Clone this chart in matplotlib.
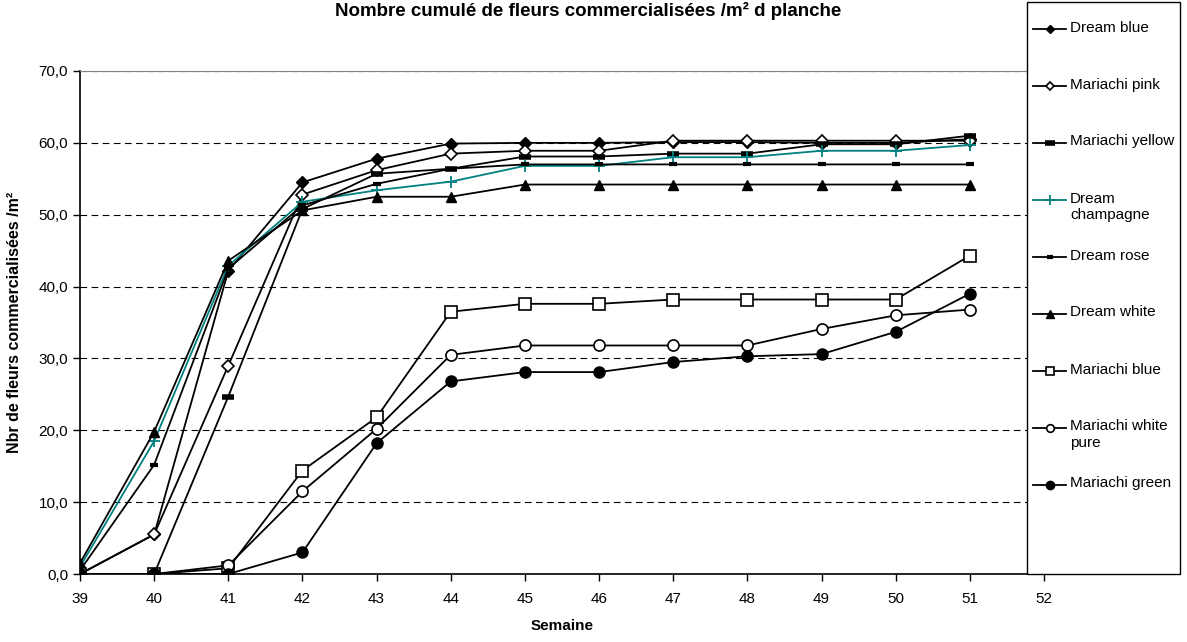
import matplotlib
matplotlib.use("Agg")
import matplotlib.pyplot as plt
from matplotlib.lines import Line2D
from matplotlib.patches import Rectangle

plt.rcParams['font.family'] = ['Liberation Sans', 'DejaVu Sans']

weeks = [39, 40, 41, 42, 43, 44, 45, 46, 47, 48, 49, 50, 51]

dream_blue = [0.0, 5.5, 42.2, 54.5, 57.8, 59.9, 60.0, 60.0, 60.1, 60.1, 60.0, 60.0, 60.5]
mariachi_pink = [0.0, 5.5, 29.0, 52.8, 56.2, 58.5, 58.9, 58.9, 60.3, 60.3, 60.3, 60.3, 60.3]
mariachi_yellow = [0.0, 0.0, 24.7, 50.8, 55.7, 56.4, 58.1, 58.1, 58.5, 58.5, 59.8, 59.8, 61.0]
dream_champagne = [1.0, 18.5, 42.9, 51.8, 53.4, 54.6, 56.8, 56.8, 58.0, 58.0, 58.9, 58.9, 59.7]
dream_rose = [0.5, 15.2, 42.5, 51.3, 54.3, 56.4, 57.0, 57.0, 57.0, 57.0, 57.0, 57.0, 57.0]
dream_white = [1.5, 19.8, 43.6, 50.6, 52.5, 52.5, 54.2, 54.2, 54.2, 54.2, 54.2, 54.2, 54.2]
mariachi_blue = [0.0, 0.0, 0.8, 14.4, 21.8, 36.5, 37.6, 37.6, 38.2, 38.2, 38.2, 38.2, 44.3]
mariachi_white_pure = [0.0, 0.0, 1.2, 11.5, 20.2, 30.5, 31.8, 31.8, 31.8, 31.8, 34.1, 36.0, 36.8]
mariachi_green = [0.0, 0.0, 0.0, 3.0, 18.2, 26.8, 28.1, 28.1, 29.5, 30.3, 30.6, 33.7, 39.0]

series = [
    ("Dream blue", dream_blue),
    ("Mariachi pink", mariachi_pink),
    ("Mariachi yellow", mariachi_yellow),
    ("Dream\nchampagne", dream_champagne),
    ("Dream rose", dream_rose),
    ("Dream white", dream_white),
    ("Mariachi blue", mariachi_blue),
    ("Mariachi white\npure", mariachi_white_pure),
    ("Mariachi green", mariachi_green),
]

y_ticks = [0, 10, 20, 30, 40, 50, 60, 70]
y_tick_labels = ["0,0", "10,0", "20,0", "30,0", "40,0", "50,0", "60,0", "70,0"]
x_ticks = list(range(39, 53))

# marker styles, same order as series (plot size, legend size)
styles = [
    (dict(color='black', marker='D', mfc='black', mec='black'), 6, 4.5),
    (dict(color='black', marker='D', mfc='white', mec='black', mew=1.2), 6, 4.5),
    (dict(color='black', marker='_', mew=4), 9, 7),
    (dict(color='#008080', marker='+', mew=1.3), 9, 7),
    (dict(color='black', marker='_', mew=3), 6, 5),
    (dict(color='black', marker='^', mfc='black', mec='black'), 7, 5.5),
    (dict(color='black', marker='s', mfc='white', mec='black', mew=1.2), 8, 6),
    (dict(color='black', marker='o', mfc='white', mec='black', mew=1.2), 8, 5.5),
    (dict(color='black', marker='o', mfc='black', mec='black'), 8, 6),
]

W, H = 1187, 642
fig = plt.figure(figsize=(W / 100, H / 100), dpi=100)
ax = fig.add_axes([80 / W, 1 - 574 / H, (1044 - 80) / W, (574 - 71) / H])

for (name, vals), (st, ms, lms) in zip(series, styles):
    ax.plot(weeks, vals, lw=1.3, ms=ms, zorder=3, **st)

ax.set_xlim(39, 52)
ax.set_ylim(0, 70)
ax.set_xticks(x_ticks)
ax.set_xticklabels([str(w) for w in x_ticks], fontsize=11)
ax.set_yticks(y_ticks)
ax.set_yticklabels(y_tick_labels, fontsize=11)
ax.tick_params(axis='both', direction='out', length=5, width=1, color='black')
ax.tick_params(axis='x', pad=8)
ax.grid(axis='y', color='black', linestyle=(0, (6, 4)), lw=0.8)
ax.set_axisbelow(True)
for s in ['left', 'bottom']:
    ax.spines[s].set_color('black')
    ax.spines[s].set_linewidth(1.2)
ax.spines['top'].set_color('#808080')
ax.spines['right'].set_color('#808080')

ax.set_xlabel("Semaine", fontsize=11, fontweight='bold', labelpad=9)
ax.set_ylabel("Nbr de fleurs commercialisées /m²", fontsize=11.5, fontweight='bold', labelpad=12)
fig.text(588 / W, 1 - 11 / H, "Nombre cumulé de fleurs commercialisées /m² d planche",
         ha='center', va='center', fontsize=13.5, fontweight='bold')

# legend box drawn over the plot like in the spreadsheet, entries evenly spaced,
# handle level with the first text line
fig.patches.append(Rectangle((1027 / W, 1 - 574 / H), (1180 - 1027) / W, (574 - 2) / H,
                             transform=fig.transFigure, facecolor='white', edgecolor='black',
                             lw=1.0, zorder=5))
for i, ((name, _), (st, ms, lms)) in enumerate(zip(series, styles)):
    yc = 1 - (29 + i * 57.0) / H
    fig.add_artist(Line2D([1033 / W, 1066 / W], [yc, yc], transform=fig.transFigure,
                          lw=1.3, color=st['color'], zorder=6))
    mk = {k: v for k, v in st.items() if k != 'color'}
    fig.add_artist(Line2D([1049.5 / W], [yc], transform=fig.transFigure, ls='none',
                          color=st['color'], ms=lms, zorder=7, **mk))
    fig.text(1070 / W, yc + 8.5 / H, name, ha='left', va='top', fontsize=11, zorder=7,
             linespacing=1.2)

fig.savefig("out.png", dpi=100)
